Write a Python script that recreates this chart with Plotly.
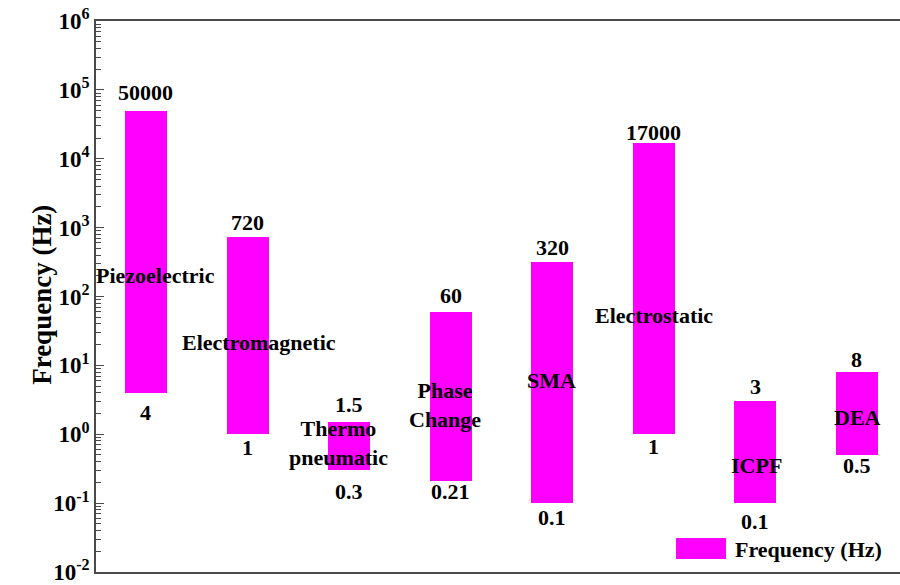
import numpy as np
import plotly.graph_objects as go

# Actuator frequency ranges (Hz)
actuators = ["Piezoelectric", "Electromagnetic", "Thermo<br>pneumatic", "Phase<br>Change",
             "SMA", "Electrostatic", "ICPF", "DEA"]
freq_low = [4, 1, 0.3, 0.21, 0.1, 1, 0.1, 0.5]
freq_high = [50000, 720, 1.5, 60, 320, 17000, 3, 8]
value_text_low = ["4", "1", "0.3", "0.21", "0.1", "1", "0.1", "0.5"]
value_text_high = ["50000", "720", "1.5", "60", "320", "17000", "3", "8"]
decades = list(range(-2, 7))

MAGENTA = "#FF00FF"
FONT = "Liberation Serif, Times New Roman, serif"
AXIS = "#4a4a4a"

x = list(range(len(actuators)))


def bold(s):
    return "<br>".join(f"<b>{p}</b>" for p in s.split("<br>"))


def lbl_font(size=22):
    return dict(family=FONT, size=size, color="black")


fig = go.Figure()
fig.add_trace(go.Bar(
    x=x,
    y=[h - l for h, l in zip(freq_high, freq_low)],
    base=freq_low,
    width=0.413,
    marker=dict(color=MAGENTA, line=dict(width=0)),
    name="Frequency (Hz)",
    showlegend=False,
))

ann = []

# value labels above / below each bar (pixel offsets tuned per bar)
top_shift = [18, 15, 18, 16, 14, 10, 15, 13]
bot_shift = [-20, -13, -21, -11, -14, -12, -18, -11]
for i in x:
    ann.append(dict(x=i, y=np.log10(freq_high[i]), text=bold(value_text_high[i]), showarrow=False,
                    xref="x", yref="y", yshift=top_shift[i], font=lbl_font()))
    ann.append(dict(x=i, y=np.log10(freq_low[i]), text=bold(value_text_low[i]), showarrow=False,
                    xref="x", yref="y", yshift=bot_shift[i], font=lbl_font()))

# category name placement: (log10 y, x pixel shift)
name_pos = [(2.31, 10), (1.33, 11), (-0.13, -11), (0.43, -6),
            (0.78, -1), (1.73, 0), (-0.46, 1), (0.25, 1)]
for i, (ly, xs) in enumerate(name_pos):
    ann.append(dict(x=i, y=ly, text=bold(actuators[i]), showarrow=False, xref="x", yref="y",
                    xshift=xs, font=lbl_font()))

# axis title
ann.append(dict(x=-0.0883, y=0.503, xref="paper", yref="paper", text=bold("Frequency (Hz)"),
                textangle=-90, showarrow=False, font=lbl_font(27)))

# legend entry drawn as box + label
ann.append(dict(x=0.7923, y=0.0417, xref="paper", yref="paper", text=bold("Frequency (Hz)"),
                xanchor="left", yanchor="middle", showarrow=False, font=lbl_font()))
shapes = [dict(type="rect", xref="paper", yref="paper", x0=0.7214, x1=0.7836,
               y0=0.0236, y1=0.0617, fillcolor=MAGENTA, line=dict(width=0))]

minor_vals = [m * 10.0 ** d for d in decades[:-1] for m in range(2, 10)]

fig.update_layout(
    width=900, height=585,
    margin=dict(l=96, r=0, t=21, b=13),
    paper_bgcolor="white", plot_bgcolor="white",
    annotations=ann, shapes=shapes,
    bargap=0,
)
fig.update_xaxes(
    range=[-0.492, 7.424], showticklabels=False, ticks="", showgrid=False, zeroline=False,
    showline=True, linecolor=AXIS, linewidth=1.5, mirror=True,
)
fig.update_yaxes(
    type="log", range=[-2, 6], showgrid=False, zeroline=False,
    tickmode="array", tickvals=[10.0 ** d for d in decades],
    ticktext=[f"<b>10<sup>{d}</sup></b>" for d in decades],
    ticks="inside", ticklen=8, tickwidth=1, tickcolor=AXIS,
    tickfont=dict(family=FONT, size=23, color="black"),
    ticklabeloverflow="allow",
    showline=True, linecolor=AXIS, linewidth=1.5,
    minor=dict(tickmode="array", tickvals=minor_vals, ticks="inside", ticklen=5,
               tickwidth=1, tickcolor=AXIS, showgrid=False),
)

fig.write_html("out.html")
